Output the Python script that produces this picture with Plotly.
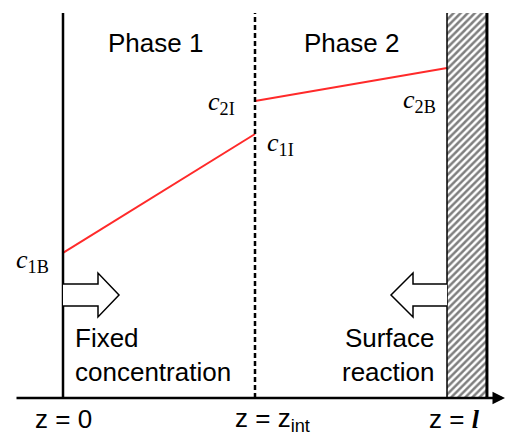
import plotly.graph_objects as go

# --- data (positions along z and concentrations) ---
z_positions = [0.0, 1.0, 2.0]            # z = 0, z = z_int, z = l
z_labels = ["z = 0", "z = z<sub>int</sub>",
            "z = <i><b><span style=\"font-family:'Liberation Serif'\">l</span></b></i>"]
phase_names = ["Phase 1", "Phase 2"]
phase1_z = [0.0, 1.0]
phase1_c = [0.44, 0.80]                  # c_1B -> c_1I
phase2_z = [1.0, 2.0]
phase2_c = [0.90, 1.00]                  # c_2I -> c_2B
wall_width = 0.208
wall_top = 1.167

W, H = 506, 435
PX_PER_Z = 192.0
PX0 = 63.0
PX_PER_C = 330.0
PY0 = 398.0

def zx(px):
    return (px - PX0) / PX_PER_Z

def cy(py):
    return (PY0 - py) / PX_PER_C

z0, zi, zl = z_positions
fig = go.Figure()

# hatched wall (surface)
fig.add_trace(go.Bar(
    x=[zl + wall_width / 2], y=[wall_top], base=[0], width=[wall_width],
    marker=dict(color="white",
                pattern=dict(shape="/", fgcolor="black", bgcolor="white", size=5, solidity=0.5),
                line=dict(width=0)),
    showlegend=False, hoverinfo="skip"))

# concentration profiles
fig.add_trace(go.Scatter(x=phase1_z, y=phase1_c, mode="lines",
                         line=dict(color="#ff2a2a", width=2), showlegend=False))
fig.add_trace(go.Scatter(x=phase2_z, y=phase2_c, mode="lines",
                         line=dict(color="#ff2a2a", width=2), showlegend=False))

shapes = []
# left boundary (solid)
shapes.append(dict(type="line", x0=z0, x1=z0, y0=0, y1=wall_top, line=dict(color="black", width=2.5)))
# interface (dashed)
shapes.append(dict(type="line", x0=zi, x1=zi, y0=0, y1=wall_top, line=dict(color="black", width=2.5, dash="5px,3px")))
# wall borders
shapes.append(dict(type="line", x0=zl, x1=zl, y0=0, y1=wall_top, line=dict(color="black", width=1.5)))
shapes.append(dict(type="line", x0=zl + wall_width, x1=zl + wall_width, y0=0, y1=wall_top, line=dict(color="black", width=3)))

# hollow arrows
def arrow_path(x_base, x_neck, x_tip, yc, shaft_h, head_h):
    pts = [(x_base, yc + shaft_h), (x_neck, yc + shaft_h), (x_neck, yc + head_h), (x_tip, yc),
           (x_neck, yc - head_h), (x_neck, yc - shaft_h), (x_base, yc - shaft_h)]
    return "M " + " L ".join(f"{x},{y}" for x, y in pts)

ayc = cy(295)
shaft_h = 11 / PX_PER_C
head_h = 22 / PX_PER_C
shapes.append(dict(type="path", path=arrow_path(z0, z0 + 35 / PX_PER_Z, z0 + 56 / PX_PER_Z, ayc, shaft_h, head_h),
                   line=dict(color="black", width=1.5), fillcolor="white"))
shapes.append(dict(type="path", path=arrow_path(zl, zl - 34 / PX_PER_Z, zl - 56 / PX_PER_Z, ayc, shaft_h, head_h),
                   line=dict(color="black", width=1.5), fillcolor="white"))

anns = []
# z axis with arrow
anns.append(dict(x=zx(505), y=0, ax=zx(15), ay=0, xref="x", yref="y", axref="x", ayref="y",
                 showarrow=True, arrowhead=2, arrowsize=1, arrowwidth=2.5, arrowcolor="black",
                 text="", standoff=0))

sans = dict(family="Liberation Sans, Arial, sans-serif", size=26, color="black")
serif = dict(family="Liberation Serif, Times New Roman, serif", size=26, color="black")

# phase labels
anns.append(dict(x=(z0 + zi) / 2, y=cy(43), xref="x", yref="y", text=phase_names[0], showarrow=False,
                 font=sans, xshift=-4))
anns.append(dict(x=(zi + zl) / 2, y=cy(43), xref="x", yref="y", text=phase_names[1], showarrow=False,
                 font=sans))

# concentration labels
anns.append(dict(x=phase1_z[0], y=phase1_c[0], text="<i>c</i><sub>1B</sub>", showarrow=False, font=serif,
                 xanchor="right", xshift=-12, yshift=-8))
anns.append(dict(x=phase2_z[0], y=phase2_c[0], text="<i>c</i><sub>2I</sub>", showarrow=False, font=serif,
                 xanchor="right", xshift=-18, yshift=-2))
anns.append(dict(x=phase1_z[1], y=phase1_c[1], text="<i>c</i><sub>1I</sub>", showarrow=False, font=serif,
                 xanchor="left", xshift=10, yshift=-10))
anns.append(dict(x=phase2_z[1], y=phase2_c[1], text="<i>c</i><sub>2B</sub>", showarrow=False, font=serif,
                 xanchor="right", xshift=-9, yshift=-33))

# boundary condition texts
anns.append(dict(x=zx(73), y=cy(355), text="Fixed<br>concentration", showarrow=False, font=sans,
                 xanchor="left", align="left"))
anns.append(dict(x=zx(437), y=cy(355), text="Surface<br>reaction", showarrow=False, font=sans,
                 xanchor="right", align="right"))

# z position labels
anns.append(dict(x=z0, y=cy(419), text=z_labels[0], showarrow=False, font=sans, xanchor="center"))
anns.append(dict(x=zx(233), y=cy(419), text=z_labels[1], showarrow=False, font=sans, xanchor="left"))
anns.append(dict(x=zx(427), y=cy(419), text=z_labels[2], showarrow=False, font=sans, xanchor="left"))

fig.update_layout(
    width=W, height=H, margin=dict(l=0, r=0, t=0, b=0),
    paper_bgcolor="white", plot_bgcolor="white",
    xaxis=dict(range=[zx(0), zx(W)], visible=False, fixedrange=True),
    yaxis=dict(range=[cy(H), cy(0)], visible=False, fixedrange=True),
    shapes=shapes, annotations=anns, bargap=0,
)

fig.write_html("out.html")
